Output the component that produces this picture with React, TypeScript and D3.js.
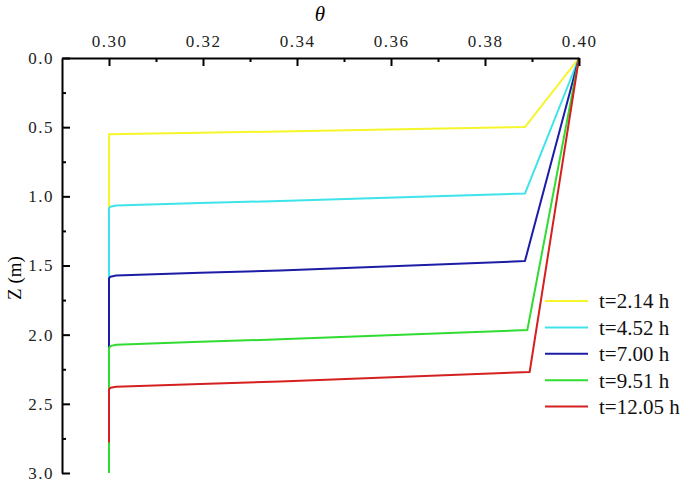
import { useEffect, useRef } from "react";
import * as d3 from "d3";

// moisture content profiles, [theta, Z] pairs
const yellowProfile: [number, number][] = [
  [0.4, 0], [0.3885, 0.499], [0.3364, 0.531], [0.3194, 0.541], [0.3, 0.552], [0.3, 3.0],
];
const cyanProfile: [number, number][] = [
  [0.4, 0], [0.3885, 0.98], [0.3364, 1.034], [0.3194, 1.048], [0.3015, 1.066], [0.3003, 1.075], [0.3, 1.087], [0.3, 3.0],
];
const blueProfile: [number, number][] = [
  [0.4, 0], [0.3885, 1.468], [0.3364, 1.536], [0.3194, 1.553], [0.3015, 1.573], [0.3003, 1.581], [0.3, 1.593], [0.3, 3.0],
];
const greenProfile: [number, number][] = [
  [0.4, 0], [0.389, 1.967], [0.3364, 2.034], [0.3194, 2.052], [0.3015, 2.073], [0.3003, 2.083], [0.3, 2.097], [0.3, 3.0],
];
const redProfile: [number, number][] = [
  [0.4, 0], [0.3895, 2.27], [0.3364, 2.338], [0.3194, 2.357], [0.3015, 2.376], [0.3003, 2.384], [0.3, 2.395], [0.3, 2.78],
];

const seriesNames = ["t=2.14 h", "t=4.52 h", "t=7.00 h", "t=9.51 h", "t=12.05 h"];
const seriesColors = ["#f5f52a", "#3fe3ea", "#1c1ca6", "#2fdc2f", "#d42020"];

const xTicks = [0.3, 0.32, 0.34, 0.36, 0.38, 0.4];
const xMinorTicks = [0.31, 0.33, 0.35, 0.37, 0.39];
const yTicks = [0, 0.5, 1.0, 1.5, 2.0, 2.5, 3.0];
const yMinorTicks = [0.25, 0.75, 1.25, 1.75, 2.25, 2.75];

export default function App() {
  const ref = useRef<SVGSVGElement>(null);

  useEffect(() => {
    const profiles = [yellowProfile, cyanProfile, blueProfile, greenProfile, redProfile];
    const svg = d3.select(ref.current);
    svg.selectAll("*").remove();

    const x = d3.scaleLinear().domain([0.29, 0.4]).range([62, 579]);
    const y = d3.scaleLinear().domain([0, 3]).range([58, 473]);

    const serif = "'Liberation Serif', 'Times New Roman', serif";

    // data lines first, axes on top
    const line = d3
      .line<[number, number]>()
      .x((d) => x(d[0]))
      .y((d) => y(d[1]));

    svg
      .append("g")
      .selectAll("path")
      .data(profiles)
      .enter()
      .append("path")
      .attr("d", (d) => line(d))
      .attr("fill", "none")
      .attr("stroke", (d, i) => seriesColors[i])
      .attr("stroke-width", 2)
      .attr("stroke-linejoin", "round");

    // top axis
    const xAxis = svg
      .append("g")
      .attr("transform", "translate(0," + y(0) + ")")
      .call(
        d3
          .axisTop(x)
          .tickValues(xTicks)
          .tickSizeInner(-8)
          .tickSizeOuter(0)
          .tickPadding(11)
          .tickFormat(d3.format(".2f"))
      );
    svg
      .append("g")
      .attr("transform", "translate(0," + y(0) + ")")
      .call(d3.axisTop(x).tickValues(xMinorTicks).tickSizeInner(-4).tickSizeOuter(0).tickFormat(() => ""))
      .select(".domain")
      .remove();

    // left axis
    const yAxis = svg
      .append("g")
      .attr("transform", "translate(" + x(0.29) + ",0)")
      .call(
        d3
          .axisLeft(y)
          .tickValues(yTicks)
          .tickSizeInner(-8)
          .tickSizeOuter(0)
          .tickPadding(8)
          .tickFormat(d3.format(".1f"))
      );
    svg
      .append("g")
      .attr("transform", "translate(" + x(0.29) + ",0)")
      .call(d3.axisLeft(y).tickValues(yMinorTicks).tickSizeInner(-4).tickSizeOuter(0).tickFormat(() => ""))
      .select(".domain")
      .remove();

    svg.selectAll(".domain").attr("stroke", "#000").attr("stroke-width", 2);
    svg.selectAll(".tick line").attr("stroke", "#000").attr("stroke-width", 2);
    [xAxis, yAxis].forEach((g) =>
      g
        .attr("font-family", serif)
        .attr("font-size", 17)
        .selectAll("text")
        .attr("fill", "#222")
        .style("letter-spacing", "1.5px")
    );

    // axis titles
    svg
      .append("text")
      .attr("x", 320)
      .attr("y", 21)
      .attr("text-anchor", "middle")
      .style("font-family", serif)
      .style("font-style", "italic")
      .style("font-size", "21px")
      .text("θ");

    svg
      .append("text")
      .attr("transform", "translate(21,278) rotate(-90)")
      .attr("text-anchor", "middle")
      .style("font-family", serif)
      .style("font-size", "19px")
      .text("Z (m)");

    // legend
    const legend = svg
      .append("g")
      .selectAll("g")
      .data(seriesNames)
      .enter()
      .append("g")
      .attr("transform", (d, i) => "translate(545," + (301 + i * 26.4) + ")");
    legend
      .append("line")
      .attr("x1", 0)
      .attr("x2", 43)
      .attr("stroke", (d, i) => seriesColors[i])
      .attr("stroke-width", 2);
    legend
      .append("text")
      .attr("x", 54)
      .attr("dy", "0.35em")
      .style("font-family", serif)
      .style("font-size", "21px")
      .attr("fill", "#111")
      .text((d) => d);
  }, []);

  return (
    <svg
      ref={ref}
      width={685}
      height={490}
      style={{ position: "absolute", left: 0, top: 0, background: "#fff" }}
    />
  );
}
